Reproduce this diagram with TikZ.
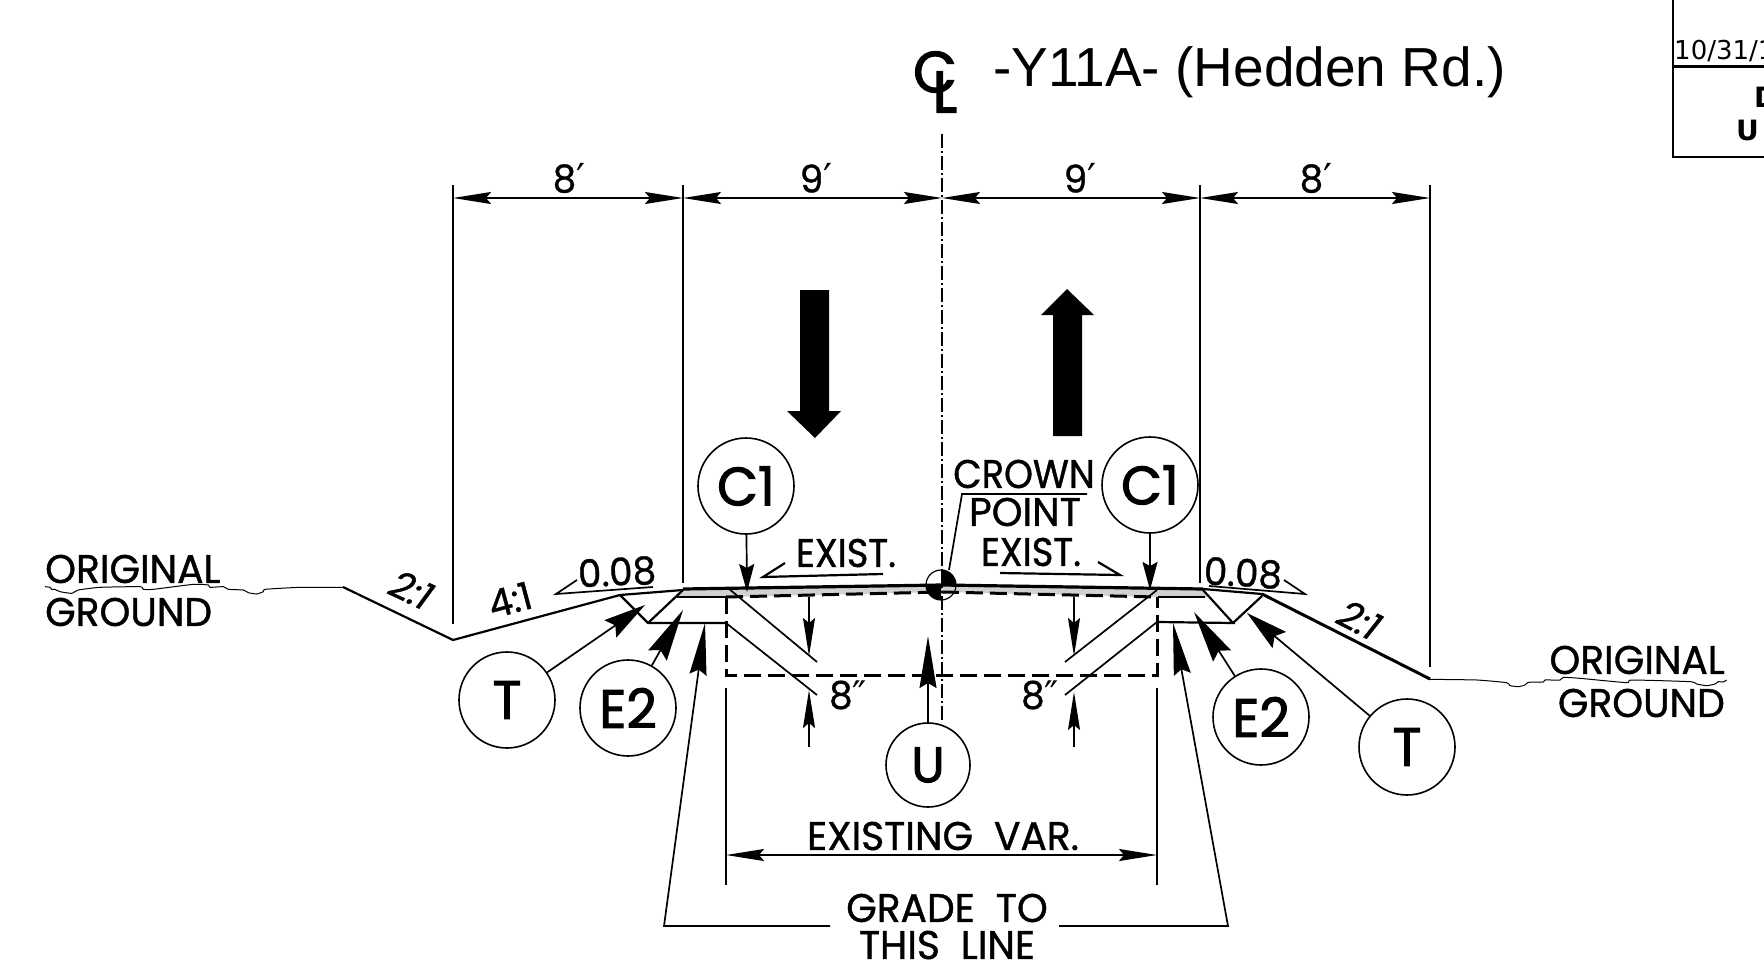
\documentclass[tikz,border=0pt]{standalone}
\usepackage{fontspec}
\usetikzlibrary{arrows.meta}
\setmainfont{Poppins}
\newfontfamily\fu[FakeStretch=0.98,FakeBold=1]{Poppins}
\newfontfamily\fun[FakeStretch=0.92,FakeBold=1]{Poppins}
\newfontfamily\fub[FakeStretch=0.98,FakeBold=2]{Poppins}
\newfontfamily\ful[FakeStretch=0.95,FakeBold=3]{Poppins}
\newfontfamily\lib{Liberation Sans}
\newfontfamily\dej{DejaVu Sans}
\tikzset{
  thinline/.style={line width=1.7pt,black},
  medline/.style={line width=2.2pt,black},
  thickline/.style={line width=3.2pt,black},
  dashline/.style={line width=3pt,black,dash pattern=on 17pt off 7pt},
  cline/.style={line width=1.5pt,black,dash pattern=on 14pt off 3pt on 2pt off 3pt},
  dimtip/.style={-{Stealth[length=38pt,width=12pt,inset=5pt]}},
  dimboth/.style={{Stealth[length=38pt,width=12pt,inset=5pt]}-{Stealth[length=38pt,width=12pt,inset=5pt]}},
  ctip/.style={-{Stealth[length=28pt,width=15pt,inset=4pt]}},
  ttip/.style={-{Stealth[length=42pt,width=21pt,inset=6pt]}},
  etip/.style={-{Stealth[length=52pt,width=21pt,inset=6pt]}},
  gtip/.style={-{Stealth[length=52pt,width=17pt,inset=5pt]}},
  callout/.style={circle,draw,line width=1.6pt,minimum size=96pt,inner sep=0pt,font=\fub\fontsize{54}{54}\selectfont},
  lbl/.style={inner sep=0pt,font=\fu\fontsize{40}{40}\selectfont},
  lbln/.style={inner sep=0pt,font=\fun\fontsize{40}{40}\selectfont},
  dimlbl/.style={inner sep=0pt,font=\fu\fontsize{38}{38}\selectfont},
  bigarrow/.style={fill=black,draw=none},
}
\newcommand{\prm}{{\dej\fontsize{40}{40}\selectfont ′}}
\newcommand{\dprm}{{\dej\fontsize{38}{38}\selectfont ″}}
\begin{document}
\begin{tikzpicture}[x=1pt,y=-1pt]
\useasboundingbox (0,0) rectangle (1764,963);
\clip (0,0) rectangle (1764,963);
% title block fragment
\coordinate (bTL) at (1673,0);
\coordinate (bML) at (1673,67);
\coordinate (bBL) at (1673,157);
\draw[line width=2.4pt] (bTL) -- (bML);
\draw[line width=2.4pt] (bML) -- (bBL) -- (1764,157);
\draw[line width=3pt] (bML) -- (1764,67);
\node[anchor=base west,inner sep=0pt,font=\dej\fontsize{26}{26}\selectfont] (date) at (1674,60) {10/31/1};
\node[anchor=base west,inner sep=0pt,font=\dej\bfseries\fontsize{28}{28}\selectfont] (blockD) at (1754,108) {D};
\node[anchor=base west,inner sep=0pt,font=\dej\bfseries\fontsize{28}{28}\selectfont] (blockU) at (1736,141) {U};
% title
\node[anchor=west,inner sep=0pt,font=\lib\fontsize{55}{55}\selectfont] (title) at (993,72) {-Y11A- (Hedden Rd.)};
\node[inner sep=0pt,font=\fub\fontsize{58}{58}\selectfont] (clC) at (935,72) {C};
\node[inner sep=0pt,font=\ful\fontsize{58}{58}\selectfont] (clL) at (945,92) {L};
% gray
\fill[black!18] (683,589) -- (942,585) -- (1203,589) -- (1210,597) -- (1158,597) -- (942,592) -- (726,597) -- (677,597) -- cycle;
% coordinates
\coordinate (e1t) at (453,185); \coordinate (e1b) at (453,624);
\coordinate (e2t) at (683,185); \coordinate (e2b) at (683,583);
\coordinate (e3t) at (1200,185); \coordinate (e3b) at (1200,583);
\coordinate (e4t) at (1430,185); \coordinate (e4b) at (1430,667);
\coordinate (cT) at (942,134); \coordinate (cB) at (942,722);
\coordinate (d1) at (453,198); \coordinate (d2) at (683,198); \coordinate (d3) at (942,198);
\coordinate (d4) at (1200,198); \coordinate (d5) at (1430,198);
\draw[thinline] (e1t) -- (e1b);
\draw[thinline] (e2t) -- (e2b);
\draw[thinline] (e3t) -- (e3b);
\draw[thinline] (e4t) -- (e4b);
\draw[cline] (cT) -- (cB);
\draw[thinline,dimboth] (d1) -- (d2);
\draw[thinline,dimboth] (d2) -- (d3);
\draw[thinline,dimboth] (d3) -- (d4);
\draw[thinline,dimboth] (d4) -- (d5);
\node[dimlbl] (l81) at (569,178) {8\prm};
\node[dimlbl] (l91) at (816,178) {9\prm};
\node[dimlbl] (l92) at (1080,178) {9\prm};
\node[dimlbl] (l82) at (1316,178) {8\prm};
% big arrows
\fill[bigarrow] (800,290) -- (829,290) -- (829,411) -- (841,411) -- (815,438) -- (787,411) -- (800,411) -- cycle;
\fill[bigarrow] (1053,436) -- (1082,436) -- (1082,315) -- (1094,315) -- (1067,289) -- (1041,315) -- (1053,315) -- cycle;
% ground
\begin{scope}[shift={(0,530)},scale=1/3]
\draw[line width=1pt,black] plot[smooth,tension=0.3] coordinates {(135,170)(150,172)(155,178)(165,178)(180,185)(215,190)(235,180)(300,172)(420,170)(430,178)(460,178)(580,163)(625,165)(630,172)(670,170)(685,178)(730,180)(745,188)(770,192)(790,185)(795,178)(900,172)(1030,172)};
\end{scope}
\begin{scope}[shift={(1360,620)},scale=1/3]
\draw[line width=1pt,black] plot[smooth,tension=0.3] coordinates {(208,178)(350,180)(440,188)(450,197)(475,200)(495,195)(505,187)(550,186)(555,180)(600,180)(610,172)(660,175)(800,188)(815,180)(990,185)(1010,192)(1040,197)(1065,192)(1075,185)(1090,186)(1100,180)};
\end{scope}
% road
\draw[medline] (343,587) -- (453,640) -- (620,595) -- (683,590);
\draw[thickline] (683,589) -- (942,585) -- (1203,589);
\draw[medline] (1203,589) -- (1262,594);
\draw[line width=3pt] (1262,594) -- (1430,679);
% wedges
\draw[medline] (620,595) -- (648,623) -- (726,623);
\draw[medline] (648,623) -- (683,590);
\draw[line width=2.8pt] (677,597) -- (726,597);
\draw[medline] (1158,622) -- (1233,623) -- (1203,590);
\draw[medline] (1233,623) -- (1262,596);
\draw[line width=2.8pt] (1158,597) -- (1205,597);
% existing pavement
\draw[dashline] (726,597) -- (942,592) -- (1157,597);
\draw[dashline] (726,597) -- (726,675) -- (1157,675) -- (1157,597);
\draw[thinline] (726,688) -- (726,885);
\draw[thinline] (1157,688) -- (1157,885);
\draw[thinline,dimboth] (726,855) -- (1157,855);
% 8 in
\draw[thinline] (728,588) -- (817,662);
\draw[thinline] (726,623) -- (817,695);
\draw[thinline] (1157,590) -- (1065,662);
\draw[thinline] (1157,622) -- (1065,695);
\draw[thinline,dimtip] (809,597) -- (809,656);
\draw[thinline,dimtip] (809,747) -- (809,690);
\draw[thinline,dimtip] (1074,597) -- (1074,656);
\draw[thinline,dimtip] (1074,747) -- (1074,692);
\node[dimlbl] (in1) at (848,695) {8\dprm};
\node[dimlbl] (in2) at (1040,695) {8\dprm};
% crown
\coordinate (cp) at (941,585);
\fill (cp) -- ++(0,-15) arc[start angle=-90,end angle=0,radius=15] -- cycle;
\fill (cp) -- ++(0,15) arc[start angle=90,end angle=180,radius=15] -- cycle;
\draw[line width=1.2pt] (cp) circle[radius=15];
% callouts
\node[callout] (C1a) at (746,486) {C1};
\node[callout] (C1b) at (1150,485) {C1};
\node[callout] (Ta) at (507,700) {T};
\node[callout] (E2a) at (628,708) {E2};
\node[callout] (E2b) at (1261,717) {E2};
\node[callout] (Tb) at (1407,747) {T};
\node[callout,minimum size=84pt,font=\fub\fontsize{50}{50}\selectfont] (U) at (928,765) {U};
\coordinate (tC1a) at (747,592); \coordinate (tC1b) at (1150,590);
\coordinate (tTa) at (645,605); \coordinate (tE2a) at (683,610);
\coordinate (tE2b) at (1194,612); \coordinate (tTb) at (1247,613);
\coordinate (tU) at (928,636);
\draw[thinline,ctip] (C1a) -- (tC1a);
\draw[thinline,ctip] (C1b) -- (tC1b);
\draw[thinline,ttip] (Ta) -- (tTa);
\draw[thinline,etip] (E2a) -- (tE2a);
\draw[thinline,etip] (E2b) -- (tE2b);
\draw[thinline,ttip] (Tb) -- (tTb);
\draw[thinline,gtip] (U) -- (tU);
% labels
\node[lbln] (cr) at (1024,474) {CROWN};
\node[lbl] (po) at (1025,512) {POINT};
\node[lbln] (ex2) at (1031,552) {EXIST.};
\node[lbln] (ex1) at (846,553) {EXIST.};
\coordinate (crL) at (949,570); \coordinate (crM) at (962,494); \coordinate (crE) at (1087,494);
\draw[thinline] (crL) -- (crM) -- (crE);
\draw[medline] (785,563) -- (763,577) -- (883,574);
\draw[medline] (1000,573) -- (1120,575) -- (1098,562);
\draw[thinline] (577,580) -- (556,594) -- (653,587);
\draw[thinline] (1209,586) -- (1305,594) -- (1284,580);
\node[dimlbl,rotate=3] (s1) at (617,572) {0.08};
\node[dimlbl,rotate=-3] (s2) at (1243,573) {0.08};
\node[dimlbl,rotate=15] (s3) at (510,600) {4:1};
\node[dimlbl,rotate=-25,xslant=0.2] (s4) at (412,590) {2:1};
\node[dimlbl,rotate=-27,xslant=0.2] (s5) at (1360,620) {2:1};
\node[lbl,anchor=west] (og1) at (45,569) {ORIGINAL};
\node[lbl,anchor=west] (og2) at (45,612) {GROUND};
\node[lbl,anchor=east] (og3) at (1725,660) {ORIGINAL};
\node[lbl,anchor=east] (og4) at (1725,703) {GROUND};
\node[lbl] (ev) at (943,836) {EXISTING\ \ VAR.};
\node[lbl] (g1) at (947,908) {GRADE\ \ TO};
\node[lbl] (g2) at (947,945) {THIS\ \ LINE};
\coordinate (ga) at (830,926); \coordinate (gb) at (664,926); \coordinate (gc) at (705,623);
\coordinate (gd) at (1059,926); \coordinate (ge) at (1228,926); \coordinate (gf) at (1173,623);
\draw[thinline,gtip] (ga) -- (gb) -- (gc);
\draw[thinline,gtip] (gd) -- (ge) -- (gf);
\end{tikzpicture}
\end{document}
